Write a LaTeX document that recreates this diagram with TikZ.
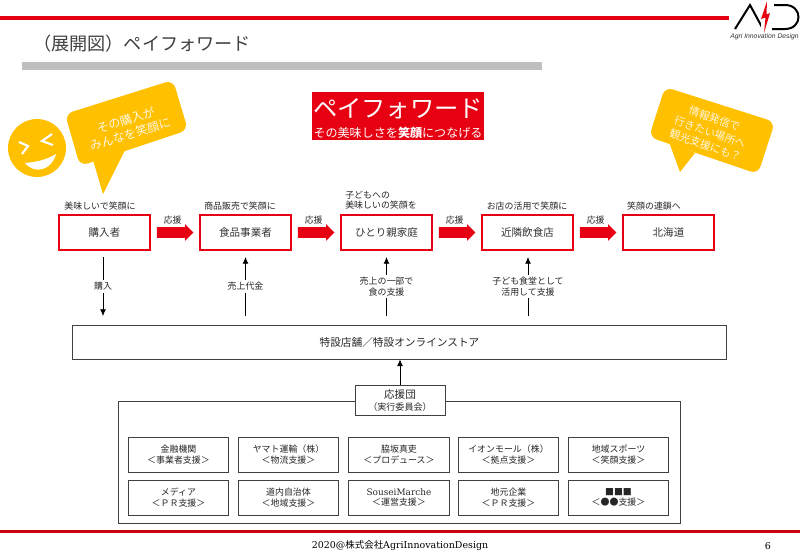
\documentclass[tikz,border=0pt]{standalone}
\usepackage{fontspec}
\setmainfont{Noto Sans CJK JP}
\newfontfamily\logofont{Liberation Sans}
\newfontfamily\latinfont{DejaVu Serif}
\usetikzlibrary{arrows.meta,shapes.arrows}
\definecolor{aidred}{HTML}{E60012}
\definecolor{smile}{HTML}{FFC000}
\definecolor{boxline}{HTML}{404040}
\newcommand{\fsz}[2]{\fontsize{#1pt}{#2pt}\selectfont}
\tikzset{
 stage/.style={draw=aidred,line width=1.9pt,minimum width=68pt,minimum height=26pt,inner sep=0pt,font=\fsz{7.9}{10},text=black!80},
 push/.style={single arrow,fill=aidred,draw=none,minimum height=27.5pt,single arrow head extend=2.25pt,single arrow tip angle=90,inner sep=0pt,outer sep=0pt},
 captext/.style={font=\fsz{6.7}{7.8},align=center,text=black!85,inner sep=0pt},
 flowtext/.style={font=\fsz{6.7}{8.3},align=center,fill=white,inner sep=1.5pt,text=black!85},
 flowline/.style={draw=black,line width=0.55pt,-{Latex[length=5pt,width=4.4pt]}},
 plainbox/.style={draw=boxline,line width=0.7pt,fill=white,inner sep=0pt,align=center,text=black!85},
 member/.style={plainbox,minimum width=75.5pt,minimum height=26.2pt,font=\fsz{6.7}{8}},
}
\begin{document}
\begin{tikzpicture}[x=0.75pt,y=-0.75pt]
\useasboundingbox (0,0) rectangle (800,554);
% frame
\fill[aidred] (0,16) rectangle (729,20);
\fill[aidred!88!black] (0,529.5) rectangle (800,533);
\fill[black!25] (22,62) rectangle (542,70);
\node[anchor=west,inner sep=0pt,font=\fsz{13.6}{15},text=black!75] (title) at (33,44) {（展開図）ペイフォワード};
\node[font=\fsz{7.1}{8},inner sep=0pt] (foot) at (400,546) {{\latinfont 2020@}株式会社{\latinfont AgriInnovationDesign}};
\node[font=\fsz{7.1}{8},inner sep=0pt] (page) at (768,546) {{\latinfont 6}};
% logo
\draw[black,line width=1.5pt] (735,29) -- (750,5) -- (763,29);
\draw[black,line width=1.5pt] (774,5) -- (785,5) .. controls (803,5) and (803,29) .. (785,29) -- (772,29);
\fill[white] (761,1) rectangle (771,33);
\fill[aidred] (767,1) -- (761,19) -- (765.5,17.5) -- (764,33) -- (770,13) -- (766.5,14.5) -- cycle;
\node[font=\logofont\itshape\fsz{5.1}{6},inner sep=0pt,text=black!80] (logotext) at (764.5,36.5) {Agri Innovation Design};
% heading
\node[fill=aidred,minimum width=129pt,minimum height=35.5pt,inner sep=0pt] (headbox) at (398,116) {};
\node[font=\fsz{18.2}{20},text=white,inner sep=0pt] (headtop) at (398,109) {ペイフォワード};
\node[font=\fsz{9.05}{11},text=white,inner sep=0pt] (headsub) at (398,133) {その美味しさを\textbf{笑顔}につなげる};
% face
\fill[smile] (37,148) circle (29);
\draw[white,line width=1.6pt,line join=miter] (19,142)--(28,146)--(22,154);
\draw[white,line width=1.6pt,line join=miter] (52,134)--(42,141)--(53,145);
\fill[white] (25,163) .. controls (38,162) and (48,159) .. (56,154) .. controls (52,170) and (35,175) .. (25,163) -- cycle;
% bubbles
\fill[smile,rounded corners=6pt] (65,114) -- (173,80) -- (188,130) -- (80,166) -- cycle;
\fill[smile] (125,150) -- (103,194) -- (93,160) -- cycle;
\node[font=\fsz{9}{11},align=center,text=white!88!smile,inner sep=0pt,rotate=17] (b1) at (128,127) {その購入が\\みんなを笑顔に};
\fill[smile,rounded corners=6pt] (665,87) -- (775,122) -- (758,174) -- (649,137) -- cycle;
\fill[smile] (669,142) -- (680,172) -- (695,153) -- cycle;
\node[font=\fsz{8}{10.5},align=center,text=white!88!smile,inner sep=0pt,rotate=-19] (b2) at (710,132) {情報発信で\\行きたい場所へ\\観光支援にも？};
% stages
\node[stage] (s1) at (104.5,232.5) {購入者};
\node[stage] (s2) at (245.5,232.5) {食品事業者};
\node[stage] (s3) at (386.5,232.5) {ひとり親家庭};
\node[stage] (s4) at (527.5,232.5) {近隣飲食店};
\node[stage] (s5) at (668.5,232.5) {北海道};
\foreach \a/\b/\n in {s1/s2/p1,s2/s3/p2,s3/s4/p3,s4/s5/p4}{
  \path (\a.east) -- (\b.west) node[push,midway,xshift=-1.9pt] (\n) {\rule{0pt}{7.5pt}};
  \node[captext] at ([yshift=5.4pt,xshift=0.2pt]\n.north) {応援};
}
\node[captext] (c1) at (100,206) {美味しいで笑顔に};
\node[captext] (c2) at (240,206) {商品販売で笑顔に};
\node[captext,align=left] (c3) at (381,200) {子どもへの\\美味しいの笑顔を};
\node[captext] (c4) at (527,206) {お店の活用で笑顔に};
\node[captext] (c5) at (654,206) {笑顔の連鎖へ};
% store
\node[plainbox,minimum width=491pt,minimum height=25.5pt,font=\fsz{8}{10}] (store) at (399.5,342) {特設店舗／特設オンラインストア};
% flows
\coordinate (a1) at (103,257); \coordinate (a2) at (103,316);
\coordinate (b1e) at (245.5,257); \coordinate (b1s) at (245.5,316);
\coordinate (c1e) at (386.5,257); \coordinate (c1s) at (386.5,316);
\coordinate (d1e) at (528,257); \coordinate (d1s) at (528,316);
\draw[flowline] (a1) -- node[flowtext] {購入} (a2);
\draw[flowline] (b1s) -- node[flowtext] {売上代金} (b1e);
\draw[flowline] (c1s) -- node[flowtext] {売上の一部で\\食の支援} (c1e);
\draw[flowline] (d1s) -- node[flowtext] {子ども食堂として\\活用して支援} (d1e);
% support group
\node[plainbox,minimum width=422pt,minimum height=91.5pt] (group) at (399.5,462) {};
\node[plainbox,minimum width=67.5pt,minimum height=23pt,font=\fsz{7.9}{9}] (team) at (400,400.5) {応援団\\{\fsz{6.8}{8}（実行委員会）}};
\draw[flowline] (team.north) -- (team.north |- store.south);
% members
\node[member] (m1) at (178.5,454.5) {金融機関\\＜事業者支援＞};
\node[member] (m2) at (288.5,454.5) {ヤマト運輸（株）\\＜物流支援＞};
\node[member] (m3) at (399,454.5) {脇坂真吏\\＜プロデュース＞};
\node[member] (m4) at (508.5,454.5) {イオンモール（株）\\＜拠点支援＞};
\node[member] (m5) at (618.5,454.5) {地域スポーツ\\＜笑顔支援＞};
\node[member] (n1) at (178.5,497.5) {メディア\\＜ＰＲ支援＞};
\node[member] (n2) at (288.5,497.5) {道内自治体\\＜地域支援＞};
\node[member] (n3) at (399,497.5) {{\latinfont SouseiMarche}\\＜運営支援＞};
\node[member] (n4) at (508.5,497.5) {地元企業\\＜ＰＲ支援＞};
\node[member] (n5) at (618.5,497.5) {■■■\\＜●●支援＞};
\end{tikzpicture}
\end{document}
